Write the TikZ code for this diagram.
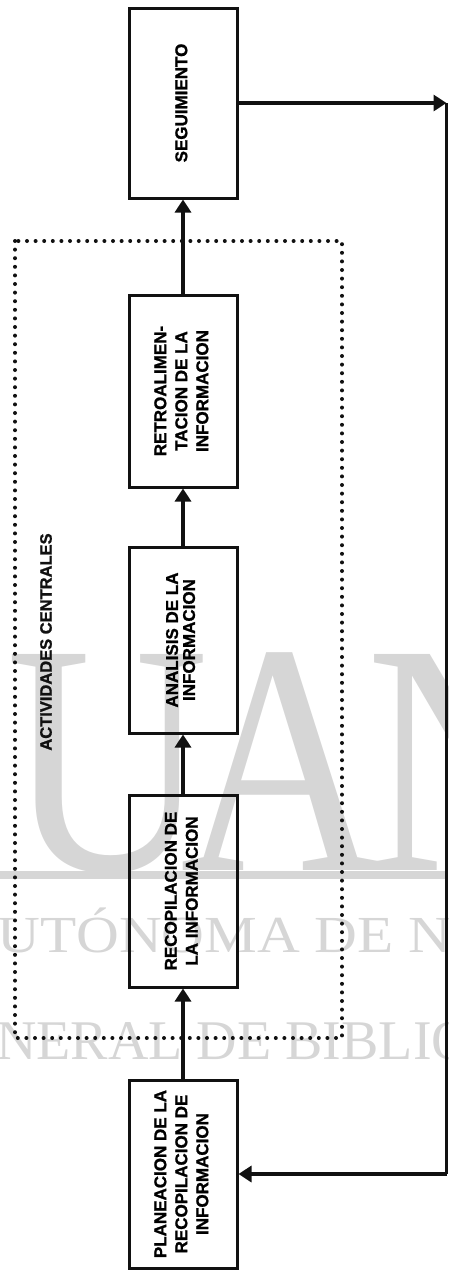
\documentclass[tikz,border=0pt]{standalone}
\usepackage{fontspec}
\setmainfont{Liberation Sans}
\newfontfamily\cajafont[BoldFeatures={FakeBold=1.2}]{Liberation Sans}
\newfontfamily\marcafont{Liberation Serif}
\usepackage{tikz}
\usetikzlibrary{arrows.meta}
\definecolor{Tinta}{HTML}{111111}
\definecolor{Marca}{HTML}{D6D6D6}
\newcommand{\vtexto}[1]{\rotatebox{90}{\begin{tabular}{@{}c@{}}#1\end{tabular}}}

\begin{document}
\begin{tikzpicture}[x=1pt,y=-1pt,
    bloque/.style={draw=Tinta, line width=3pt, minimum width=108pt, inner sep=0pt,
      font=\cajafont\bfseries\fontsize{17}{21}\selectfont},
    flecha/.style={Tinta, line width=3.4pt, -{Triangle[length=13pt,width=16pt]}},
    linea/.style={Tinta, line width=3.4pt},
    punteado/.style={Tinta, line width=4pt, dash pattern=on 0pt off 8.6pt, line cap=round},
    marca/.style={Marca, inner sep=0pt}]
  \useasboundingbox (0,0) rectangle (448,1270);
  \fill[Marca] (0,871) rectangle (448,879);
  \node[marca, font=\marcafont\fontsize{330}{330}\selectfont, anchor=base, xscale=.85] (mU) at (108,870) {U};
  \node[marca, font=\marcafont\fontsize{330}{330}\selectfont, anchor=base, xscale=.85] (mA) at (282,870) {A};
  \node[marca, font=\marcafont\fontsize{330}{330}\selectfont, anchor=base west, xscale=.85] (mN) at (366,870) {N};
  \node[marca, font=\marcafont\fontsize{52}{52}\selectfont, anchor=base west, xscale=1.14] (mL1) at (-3,952) {UTÓNOMA DE NU};
  \node[marca, font=\marcafont\fontsize{56}{56}\selectfont, anchor=base west] (mL2) at (-4,1059) {NERAL DE BIBLIO};
  \draw[punteado] (15,241) rectangle (342,1038);
  \node[font=\cajafont\bfseries\fontsize{16.5}{20}\selectfont, Tinta] (act) at (46,642) {\rotatebox{90}{ACTIVIDADES CENTRALES}};
  \node[bloque, minimum height=190pt] (seg) at (183,103) {\vtexto{SEGUIMIENTO}};
  \node[bloque, minimum height=192pt] (retro) at (183,391) {\vtexto{RETROALIMEN-\\TACION DE LA\\INFORMACION}};
  \node[bloque, minimum height=186pt, font=\cajafont\bfseries\fontsize{17}{17}\selectfont] (anal) at (183,640) {\vtexto{ANALISIS DE LA\\INFORMACION}};
  \node[bloque, minimum height=192pt] (reco) at (183,891) {\vtexto{RECOPILACION DE\\LA INFORMACION}};
  \node[bloque, minimum height=188pt] (plan) at (183,1174) {\vtexto{PLANEACION DE LA\\RECOPILACION DE\\INFORMACION}};
  \draw[flecha] (plan) -- (reco);
  \draw[flecha] (reco) -- (anal);
  \draw[flecha] (anal) -- (retro);
  \draw[flecha] (retro) -- (seg);
  \path (seg.east) ++(208,0) coordinate (dA);
  \coordinate (dB) at (dA |- plan.east);
  \draw[flecha] (seg.east) -- (dA);
  \draw[linea] (dA) -- (dB);
  \draw[flecha] (dB) -- (plan.east);
\end{tikzpicture}
\end{document}
